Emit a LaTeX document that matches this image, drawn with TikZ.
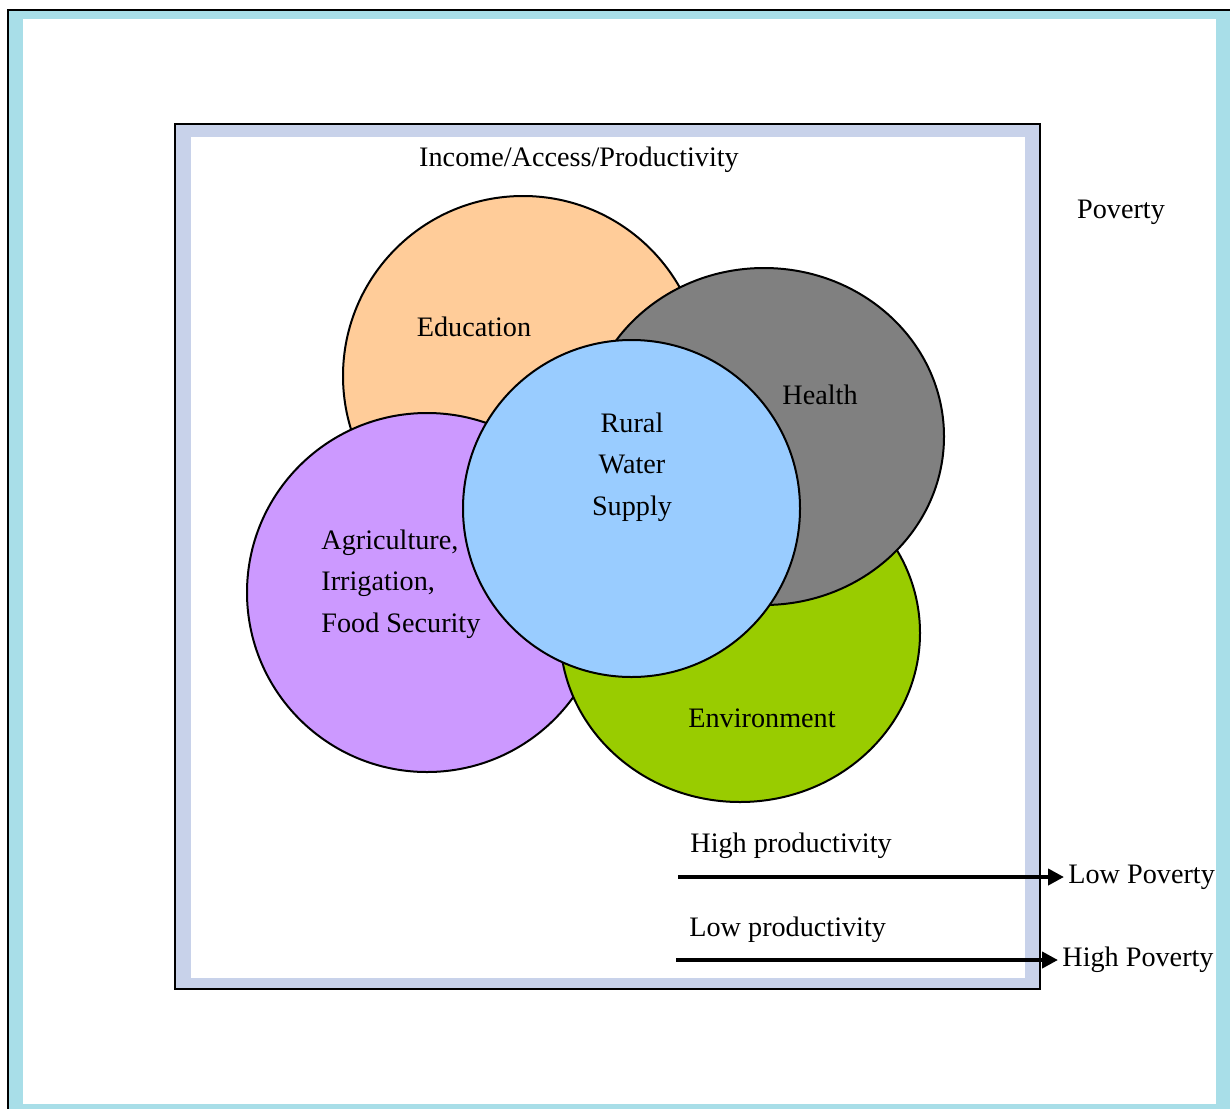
\documentclass[tikz,border=0pt]{standalone}
\usepackage{fontspec}
\setmainfont{Liberation Serif}
\usetikzlibrary{arrows.meta}

\definecolor{frameblue}{RGB}{168,222,232}
\definecolor{bandgrey}{RGB}{200,210,234}
\definecolor{educolor}{RGB}{255,204,153}
\definecolor{healthcolor}{RGB}{128,128,128}
\definecolor{agricolor}{RGB}{204,153,255}
\definecolor{envcolor}{RGB}{153,204,0}
\definecolor{watercolor}{RGB}{153,204,255}

\begin{document}
\begin{tikzpicture}[
  yscale = -1, scale = 0.5,
  cstyle/.style = {draw=black,line width=1pt},
  lstyle/.style = {font=\fontsize{14.1}{20.75}\selectfont,inner sep=0pt},
  astyle/.style = {draw=black,line width=2.3pt,-{Triangle[length=8pt,width=8pt]}},
]
  \useasboundingbox (0pt,0pt) rectangle (1230pt,1108pt);
  % outer page frame
  \draw[fill=frameblue,draw=black,line width=0.8pt] (8pt,10pt) rectangle (1280pt,1160pt);
  \fill[white] (23pt,19pt) rectangle (1216pt,1104pt);
  % inner box
  \draw[fill=bandgrey,draw=black,line width=0.8pt] (175pt,124pt) rectangle (1040pt,989pt);
  \fill[white] (191pt,137pt) rectangle (1025pt,978pt);
  \node (top) at (579pt,160pt)[lstyle]{Income/Access/Productivity};
  \node (pov) at (1121pt,212pt)[lstyle]{Poverty};
  % the five circles
  \draw[cstyle,fill=educolor] (523pt,376pt) ellipse (180pt and 180pt);
  \draw[cstyle,fill=agricolor] (427pt,592.5pt) ellipse (180pt and 179.5pt);
  \draw[cstyle,fill=envcolor] (740pt,633pt) ellipse (180pt and 169pt);
  \draw[cstyle,fill=healthcolor] (764pt,436.5pt) ellipse (180pt and 168.5pt);
  \draw[cstyle,fill=watercolor] (631.5pt,508.5pt) ellipse (168.5pt and 168.5pt);
  \node (edu) at (474pt,327pt)[lstyle]{Education};
  \node (health) at (820pt,395pt)[lstyle]{Health};
  \node (env) at (762pt,718pt)[lstyle]{Environment};
  \node (water) at (632pt,467pt)[lstyle,align=center]{Rural\\Water\\Supply};
  \node (agri) at (321pt,584pt)[lstyle,anchor=west,align=left]{Agriculture,\\Irrigation,\\Food Security};
  % productivity arrows
  \node (hiprod) at (690pt,846pt)[lstyle,anchor=west]{High productivity};
  \node (loprod) at (689pt,930pt)[lstyle,anchor=west]{Low productivity};
  \node (lowpov) at (1064pt,877pt)[lstyle,anchor=west,inner xsep=2pt]{Low Poverty};
  \node (highpov) at (1058pt,960pt)[lstyle,anchor=west,inner xsep=2pt]{High Poverty};
  \coordinate (hpstart) at (678pt,877pt);
  \coordinate (lpstart) at (676pt,960pt);
  \draw[astyle] (hpstart) -- (lowpov.west);
  \draw[astyle] (lpstart) -- (highpov.west);
\end{tikzpicture}
\end{document}
